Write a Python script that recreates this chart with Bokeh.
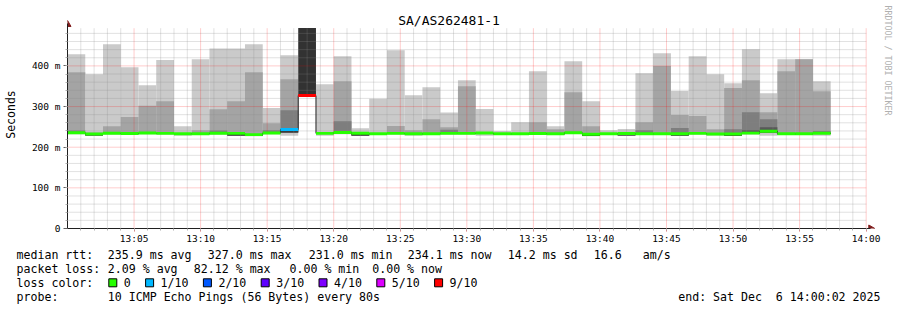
import math
from bokeh.plotting import figure
from bokeh.models import Range1d, FixedTicker, Label
from bokeh.embed import file_html
from bokeh.resources import INLINE
from bokeh.core.properties import value

# ---------------- data ----------------
step_seconds = 80
n_bars = 43
bar_start_min = [i * step_seconds / 60 for i in range(n_bars)]   # minutes after 13:00

rtt_median = [235.7, 232.5, 234.4, 233.5, 235.0, 234.0, 233.2, 233.0, 234.5, 234.0,
              231.0, 235.0, 243.5, 327.0, 234.0, 236.0, 234.4, 233.0, 234.0, 233.0,
              233.0, 234.0, 234.0, 235.0, 233.0, 233.0, 233.5, 233.0, 235.7, 232.0,
              233.0, 233.5, 233.0, 233.0, 233.0, 234.0, 232.5, 232.5, 234.7, 239.4,
              233.0, 233.0, 234.1]
loss_tenths = [0, 0, 0, 0, 0, 0, 0, 0, 0, 0,
               0, 0, 1, 9, 0, 0, 0, 0, 0, 0,
               0, 0, 0, 0, 0, 0, 0, 0, 0, 0,
               0, 0, 0, 0, 0, 0, 0, 0, 0, 0,
               0, 0, 0]
rtt_min = [232, 228, 231, 230.5, 232, 231, 228, 230, 231, 228.5,
           227, 232, 228, 327, 228, 232, 228.5, 230, 231, 228,
           230, 231, 231, 228, 230, 230, 230.5, 230, 232.5, 227,
           230, 228.5, 230, 230, 228, 231, 228, 227.5, 231, 228,
           230, 230, 228]
rtt_low = [234, 228.5, 233, 232, 233.5, 232.5, 232, 232, 233, 229,
           227.5, 233.5, 236, 327, 232.5, 234.5, 229, 231.5, 232.5, 231.5,
           231.5, 232.5, 232.5, 233.5, 231.5, 231.5, 232, 231.5, 234, 227.5,
           231.5, 229, 231.5, 231.5, 228.5, 232.5, 231, 228, 233, 236,
           231.5, 231.5, 232.5]
rtt_p6 = [235.7, 232.5, 234.4, 233.5, 235.0, 234.0, 233.2, 233.0, 234.5, 234.0,
          231.0, 235.0, 243.5, 493.0, 234.0, 236.0, 234.4, 233.0, 234.0, 233.0,
          233.0, 234.0, 234.0, 235.0, 233.0, 233.0, 233.5, 233.0, 235.7, 232.0,
          233.0, 233.5, 233.0, 233.0, 233.0, 234.0, 232.5, 232.5, 234.7, 239.4,
          233.0, 233.0, 234.1]
rtt_p7 = [234, 228.5, 233, 232, 233.5, 232.5, 232, 232, 233, 232,
          227.5, 233.5, 240, 327, 232.5, 234.5, 232, 231.5, 232.5, 231.5,
          231.5, 232.5, 232.5, 233.5, 231.5, 231.5, 232, 231.5, 234, 227.5,
          231.5, 229, 231.5, 231.5, 231.5, 232.5, 231, 228, 242, 249,
          231.5, 231.5, 232.5]
rtt_p8 = [241, 232.5, 234.4, 233.5, 235, 234, 233.2, 233, 241, 234,
          231, 241.8, 291, 327, 234, 264, 234.4, 233, 234, 233,
          233, 243, 234, 235, 233, 233, 233.5, 233, 235.7, 232,
          233, 233.5, 242, 233, 247.5, 234, 232.5, 244, 286, 269,
          233, 233, 240]
rtt_p9 = [384.5, 236, 251.4, 274.6, 301.7, 313, 233.2, 241.8, 293.5, 313.3,
          384.5, 259, 367, 327, 234, 362.4, 234.4, 233, 252.4, 242,
          269, 249, 350, 235, 233, 233, 261.5, 244, 335.3, 251.4,
          233, 233.5, 261.5, 400, 279.5, 277, 244.3, 345.6, 364.8, 286,
          387, 416.5, 337.7]
rtt_max = [428.7, 379.6, 453, 396.8, 352.5, 414.8, 251.4, 416.5, 443, 443,
           453, 296.5, 426.4, 327, 354.8, 424, 246.7, 319, 438.6, 327.5,
           347.2, 285.3, 364.8, 294, 240, 261.5, 387, 251.4, 411.6, 313,
           241.5, 244.5, 382, 431, 338, 423.7, 379.5, 357.4, 441, 332.8,
           416.5, 416.5, 362.4]

x_tick_min = [5, 10, 15, 20, 25, 30, 35, 40, 45, 50, 55, 60]
x_tick_labels = ["13:05", "13:10", "13:15", "13:20", "13:25", "13:30",
                 "13:35", "13:40", "13:45", "13:50", "13:55", "14:00"]
y_tick_ms = [0, 100, 200, 300, 400]
y_tick_labels = ["0", "100 m", "200 m", "300 m", "400 m"]

loss_keys = [0, 1, 2, 3, 4, 5, 9]
loss_labels = ["0", "1/10", "2/10", "3/10", "4/10", "5/10", "9/10"]
loss_colors = ["#26ff00", "#00b8ff", "#0059ff", "#5e00ff", "#7e00ff", "#dd00ff", "#ff0000"]

title_text = "SA/AS262481-1"
stats_line1 = [("median rtt:", 16), ("235.9 ms avg", 107.3), ("327.0 ms max", 207.3),
               ("231.0 ms min", 308.3), ("234.1 ms now", 407.3), ("14.2 ms sd", 507.3),
               ("16.6", 593.3), ("am/s", 642.3)]
stats_line2 = [("packet loss:", 16), ("2.09 % avg", 107.3), ("82.12 % max", 193.3),
               ("0.00 % min", 289.0), ("0.00 % now", 371.7)]
probe_line = [("probe:", 16), ("10 ICMP Echo Pings (56 Bytes) every 80s", 107.3),
              ("end: Sat Dec", 677.7)]
end_tail = "6 14:00:02 2025"

# ---------------- geometry / style ----------------
FONT = "DejaVu Sans Mono"
PX_PER_MIN = 13.327
PX_PER_MS = 0.4065
LEFT = 66
W = 897
AXIS_Y = 228                 # canvas row of the time axis
H_TOP = 248
H_BOT = 310 - H_TOP
X_VIEW_END = (W - LEFT) / PX_PER_MIN
Y_VIEW_END = AXIS_Y / PX_PER_MS
GRAPH_X_END = 60.0      # 14:00
GRAPH_Y_TOP = 493.0     # rrdtool upper limit
BAND_HALF = 3.6


def cx(px):   # canvas column -> data x (minutes)
    return (px - LEFT) / PX_PER_MIN


def cy(py):   # canvas row -> data y (ms)
    return (AXIS_Y - py) / PX_PER_MS


bar_w = step_seconds / 60
lefts = bar_start_min
rights = [s + bar_w for s in bar_start_min]

p = figure(width=W, height=H_TOP, x_range=Range1d(0, X_VIEW_END), y_range=Range1d(0, Y_VIEW_END),
           output_backend="svg", toolbar_location=None,
           min_border_left=LEFT, min_border_right=0, min_border_top=0,
           min_border_bottom=H_TOP - AXIS_Y)
p.outline_line_color = None
p.grid.visible = False
p.background_fill_color = "white"
p.border_fill_color = "white"

# smoke layers (SmokePing greys)
layers = [(rtt_min, rtt_max, "#cacaca"),
          (rtt_low, rtt_p9, "#a4a4a4"),
          (rtt_low, rtt_p8, "#7e7e7e"),
          (rtt_low, rtt_p7, "#585858"),
          (rtt_low, rtt_p6, "#323232")]
for bot, top, col in layers:
    p.quad(left=lefts, right=rights, bottom=bot, top=top,
           fill_color=col, line_color=None)

# grid (drawn over the smoke, like rrdtool)
minor_x = [m for m in range(1, 60) if m % 5 != 0]
p.segment(x0=minor_x, y0=[0] * len(minor_x), x1=minor_x, y1=[GRAPH_Y_TOP] * len(minor_x),
          line_color="#8c8c8c", line_alpha=0.5, line_width=1, line_dash="1 1")
minor_y = [v for v in range(20, 481, 20) if v % 100 != 0]
p.segment(x0=[0] * len(minor_y), y0=minor_y, x1=[GRAPH_X_END] * len(minor_y), y1=minor_y,
          line_color="#8c8c8c", line_alpha=0.5, line_width=1, line_dash="1 1")
p.segment(x0=x_tick_min, y0=[0] * len(x_tick_min), x1=x_tick_min, y1=[GRAPH_Y_TOP] * len(x_tick_min),
          line_color="#ff0000", line_alpha=0.4, line_width=1, line_dash="1 1")
major_y = y_tick_ms[1:]
p.segment(x0=[0] * len(major_y), y0=major_y, x1=[GRAPH_X_END] * len(major_y), y1=major_y,
          line_color="#ff0000", line_alpha=0.4, line_width=1, line_dash="1 1")

# median line and loss-coloured band
p.step(x=lefts + [rights[-1]], y=rtt_median + [rtt_median[-1]], mode="after",
       line_color="#202020", line_width=1)
color_of = dict(zip(loss_keys, loss_colors))
band_colors = [color_of[l] for l in loss_tenths]
p.quad(left=lefts, right=rights,
       bottom=[m - BAND_HALF for m in rtt_median], top=[m + BAND_HALF for m in rtt_median],
       fill_color=band_colors, line_color=None)

# axes
p.xaxis.ticker = FixedTicker(ticks=x_tick_min, minor_ticks=list(range(1, 61)))
p.xaxis.major_label_overrides = {t: l for t, l in zip(x_tick_min, x_tick_labels)}
p.xaxis.bounds = (0, 60.3)
p.yaxis.ticker = FixedTicker(ticks=y_tick_ms, minor_ticks=list(range(20, 481, 20)))
p.yaxis.major_label_overrides = {t: l for t, l in zip(y_tick_ms, y_tick_labels)}
p.yaxis.bounds = (0, 505)
for ax in (p.xaxis[0], p.yaxis[0]):
    ax.axis_line_color = "#202020"
    ax.axis_line_width = 1
    ax.major_label_text_font = FONT
    ax.major_label_text_font_size = "9.5px"
    ax.major_label_text_color = "#000000"
    ax.minor_tick_in = 0
    ax.minor_tick_out = 2
    ax.minor_tick_line_color = "#b0b0b0"
p.xaxis.major_tick_in = 0
p.xaxis.major_tick_out = 3
p.xaxis.major_tick_line_color = "#e07070"
p.xaxis.major_label_standoff = 1
p.yaxis.major_tick_in = 0
p.yaxis.major_tick_out = 4
p.yaxis.major_tick_line_color = "#606060"
p.yaxis.major_label_standoff = 3
p.yaxis.axis_label = "Seconds"
p.yaxis.axis_label_text_font = FONT
p.yaxis.axis_label_text_font_size = "11.5px"
p.yaxis.axis_label_text_font_style = "normal"
p.yaxis.axis_label_text_color = "#000000"
p.yaxis.axis_label_standoff = 11

# axis arrow heads
arrow_col = "#801c1c"
p.scatter(x=[60.35], y=[0], marker="triangle", size=7, angle=-math.pi / 2,
          fill_color=arrow_col, line_color=arrow_col)
p.scatter(x=[0], y=[502], marker="triangle", size=7,
          fill_color=arrow_col, line_color=arrow_col)

# title and watermark
p.add_layout(Label(x=cx(448), y=cy(19.5), text=title_text, text_font=FONT, text_font_size="13px",
                   text_align="center", text_baseline="middle", text_color="#000000"))
p.add_layout(Label(x=cx(887), y=cy(60), text="RRDTOOL / TOBI OETIKER", text_font=FONT,
                   text_font_size="8.3px", angle=-math.pi / 2, text_align="center",
                   text_baseline="middle", text_color="#b0b0b0"))

# ---------------- legend block below the graph (own canvas, pixel units) ----------------
lg = figure(width=W, height=H_BOT, x_range=Range1d(0, W), y_range=Range1d(H_BOT, 0),
            output_backend="svg", toolbar_location=None, min_border=0,
            min_border_left=0, min_border_right=0, min_border_top=0, min_border_bottom=0,
            x_axis_type=None, y_axis_type=None)
lg.outline_line_color = None
lg.grid.visible = False
lg.background_fill_color = "white"
lg.border_fill_color = "white"

row_y = [y - H_TOP for y in (254.3, 268.3, 282.3, 296.0)]
txt_kw = dict(text_font=value(FONT), text_font_size="11.6px", text_baseline="middle",
              text_color="#000000")
lg.text(x=[x for _, x in stats_line1], y=[row_y[0]] * len(stats_line1),
        text=[t for t, _ in stats_line1], text_align="left", **txt_kw)
lg.text(x=[x for _, x in stats_line2], y=[row_y[1]] * len(stats_line2),
        text=[t for t, _ in stats_line2], text_align="left", **txt_kw)
box_x = []
x0 = 108.3
for lab in loss_labels:
    box_x.append(x0)
    x0 += 29.8 + 7.0 * len(lab)
lg.text(x=[16], y=[row_y[2]], text=["loss color:"], text_align="left", **txt_kw)
lg.rect(x=[b + 4 for b in box_x], y=[row_y[2]] * len(box_x), width=8, height=8,
        fill_color=loss_colors, line_color="#000000", line_width=1)
lg.text(x=[b + 15 for b in box_x], y=[row_y[2]] * len(box_x), text=loss_labels,
        text_align="left", **txt_kw)
lg.text(x=[x for _, x in probe_line], y=[row_y[3]] * len(probe_line),
        text=[t for t, _ in probe_line], text_align="left", **txt_kw)
lg.text(x=[880], y=[row_y[3]], text=[end_tail], text_align="right", **txt_kw)

open("out.html", "w").write(file_html([p, lg], INLINE))
